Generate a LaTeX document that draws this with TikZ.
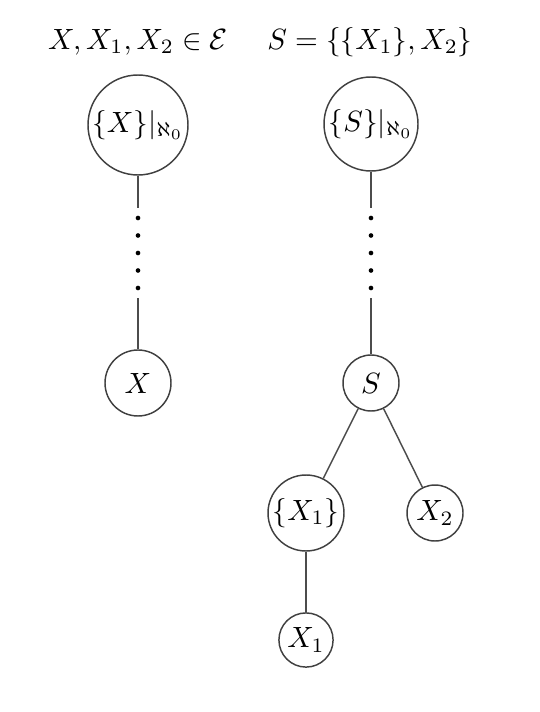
\documentclass[tikz,border=0pt]{standalone}
\usepackage{amssymb}
\usepackage{amsmath}

\begin{document}
\begin{tikzpicture}[vertex/.style={circle, draw=black!75, line width=0.5pt, inner sep=0pt},
                    edge/.style={draw=black!70, line width=0.5pt}]
  \useasboundingbox (0,0) rectangle (6.48,-8.544);
  \node (lt) at (1.656,-0.504) {$X, X_1, X_2 \in \mathcal{E}$};
  \node (rt) at (4.44,-0.504)  {$S = \{\{X_1\}, X_2\}$};
  \node[vertex, minimum size=1.2cm]   (lr)  at (1.656,-1.5)   {$\{X\}|_{\aleph_0}$};
  \node[vertex, minimum size=1.128cm] (rr)  at (4.452,-1.488) {$\{S\}|_{\aleph_0}$};
  \node[vertex, minimum size=0.792cm] (x)   at (1.656,-4.596) {$X$};
  \node[vertex, minimum size=0.672cm] (s)   at (4.452,-4.596) {$S$};
  \node[vertex, minimum size=0.912cm] (sx1) at (3.672,-6.156) {$\{X_1\}$};
  \node[vertex, minimum size=0.672cm] (x2)  at (5.22,-6.156)  {$X_2$};
  \node[vertex, minimum size=0.65cm]  (x1)  at (3.672,-7.68)  {$X_1$};
  \coordinate (la) at (1.656,-2.496);
  \coordinate (lb) at (1.656,-3.576);
  \coordinate (ra) at (4.452,-2.496);
  \coordinate (rb) at (4.452,-3.576);
  \draw[edge] (lr) -- (la);
  \draw[edge] (lb) -- (x);
  \draw[edge] (rr) -- (ra);
  \draw[edge] (rb) -- (s);
  \foreach \y in {-2.616,-2.826,-3.036,-3.246,-3.456} {
    \fill (1.656,\y) circle (0.028);
    \fill (4.452,\y) circle (0.028);
  }
  \draw[edge] (s) -- (sx1);
  \draw[edge] (s) -- (x2);
  \draw[edge] (sx1) -- (x1);
\end{tikzpicture}
\end{document}
